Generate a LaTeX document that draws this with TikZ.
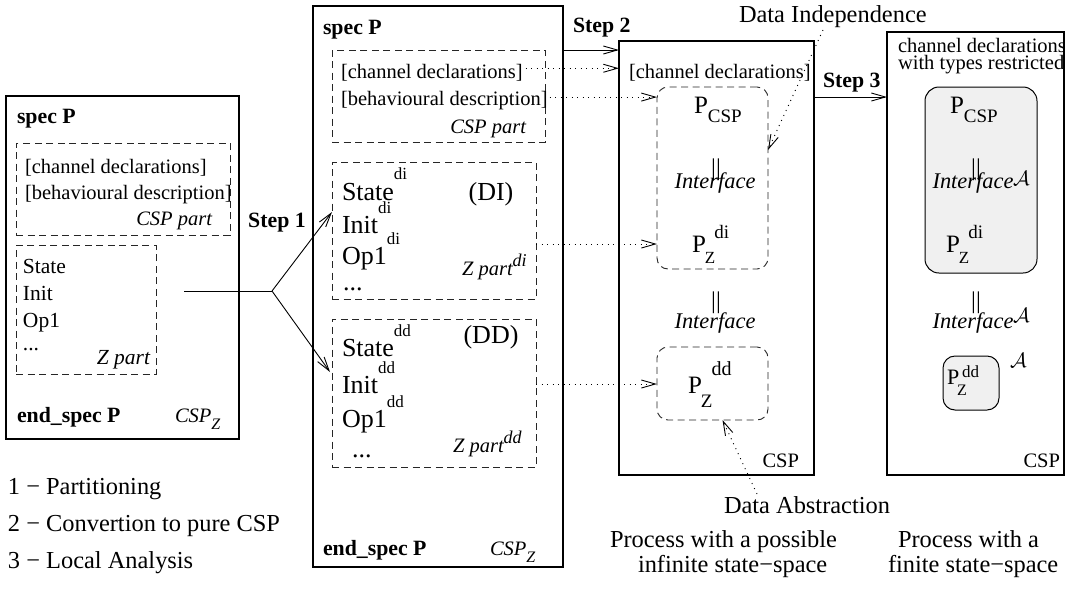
\documentclass[tikz,border=0pt]{standalone}
\usepackage{fontspec}
\setmainfont{Liberation Serif}
\usetikzlibrary{arrows.meta}
\definecolor{greyfill}{RGB}{240,240,240}
\newcommand\upr[3][17]{\raisebox{#2}{\fontsize{#1}{#1}\selectfont #3}}
\newcommand\dnr[3][17]{\raisebox{-#2}{\fontsize{#1}{#1}\selectfont #3}}
\newcommand\calA[1][22]{{\fontsize{#1}{#1}\selectfont$\mathcal{A}$}}
\begin{document}
\begin{tikzpicture}[x=1pt,y=-1pt,
  box/.style={draw, line width=1.1pt, inner sep=0pt, outer sep=0pt, anchor=north west},
  dbox/.style={draw=black!85, line width=0.9pt, dash pattern=on 7pt off 4.5pt, inner sep=0pt, outer sep=0pt, anchor=north west},
  rdbox/.style={dbox, rounded corners=11pt},
  gbox/.style={draw, line width=1pt, fill=greyfill, rounded corners=14pt, inner sep=0pt, outer sep=0pt, anchor=north west},
  txt/.style={inner sep=0pt, outer sep=0pt, font=\fontsize{20.5}{22}\selectfont},
  txtb/.style={txt, font=\fontsize{21.8}{24}\selectfont\bfseries},
  txti/.style={txt, font=\fontsize{20.5}{22}\selectfont\itshape},
  txtz/.style={txt, font=\fontsize{21.5}{23}\selectfont},
  txtzi/.style={txt, font=\fontsize{21.5}{23}\selectfont\itshape},
  txtbig/.style={txt, font=\fontsize{26}{28}\selectfont},
  txtif/.style={txt, font=\fontsize{22.4}{24}\selectfont\itshape},
  txtlab/.style={txt, font=\fontsize{24.4}{26}\selectfont},
  txtp/.style={txt, font=\fontsize{25}{27}\selectfont},
  pll/.style={txt, font=\fontsize{24}{24}\selectfont},
  arr/.style={line width=0.9pt, -{Straight Barb[length=14pt,width=8pt]}},
  darr/.style={line width=0.9pt, dash pattern=on 1pt off 4.5pt, -{Straight Barb[length=14pt,width=8pt]}}
]
\useasboundingbox (0,0) rectangle (1076,590);

% ---------- box 1 ----------
\node[box, minimum width=233pt, minimum height=343pt] (b1) at (6,96) {};
\node[dbox, minimum width=214pt, minimum height=92pt] (cspL) at (16,143) {};
\node[dbox, minimum width=140pt, minimum height=129pt] (zL) at (16,245) {};
\node[txtb, anchor=base west] (specL) at (17,123) {spec P};
\node[txt, anchor=base west] (chL) at (25,173) {[channel declarations]};
\node[txt, anchor=base west] (bhL) at (25,199) {[behavioural description]};
\node[txti, anchor=base east] (cpL) at (212,225) {CSP part};
\node[txtz, anchor=base west] (stL) at (23,273) {State};
\node[txtz, anchor=base west] (inL) at (23,300) {Init};
\node[txtz, anchor=base west] (opL) at (23,327) {Op1};
\node[txtz, anchor=base west] (dtL) at (23,350) {...};
\node[txtzi, anchor=base east] (zpL) at (150,364) {Z part};
\node[txtb, anchor=base west] (endL) at (17,422) {end\_spec P};
\node[txti, anchor=base west] (cszL) at (175,422) {CSP\dnr[16]{7pt}{Z}};

% step 1
\node[txtb, anchor=base] (s1) at (277,227) {Step 1};
\coordinate (zout) at (184,291);
\coordinate (fork) at (272,291);
\coordinate (diIn) at (332,212);
\coordinate (ddIn) at (330,372);
\draw[line width=0.9pt] (zout) -- (fork);
\draw[arr] (fork) -- (diIn);
\draw[arr] (fork) -- (ddIn);

% ---------- box 2 ----------
\node[box, minimum width=250pt, minimum height=561pt] (b2) at (313,6) {};
\node[dbox, minimum width=213pt, minimum height=92pt] (cspM) at (332,50) {};
\node[dbox, minimum width=204pt, minimum height=137pt] (diM) at (332,162) {};
\node[dbox, minimum width=204pt, minimum height=148pt] (ddM) at (332,319) {};
\node[txtb, anchor=base west] (specM) at (323,34) {spec P};
\node[txt, anchor=base west] (chM) at (341,78) {[channel declarations]};
\node[txt, anchor=base west] (bhM) at (341,105) {[behavioural description]};
\node[txti, anchor=base east] (cpM) at (526,133) {CSP part};
\node[txtbig, anchor=base west] (stDI) at (342,200) {State\upr{21pt}{di}};
\node[txtbig, anchor=base] (lDI) at (491,200) {(DI)};
\node[txtbig, anchor=base west] (inDI) at (342,233) {Init\upr{20pt}{di}};
\node[txtbig, anchor=base west] (opDI) at (342,264) {Op1\upr{20pt}{di}};
\node[txtbig, anchor=base west] (dtDI) at (343,290) {...};
\node[txti, anchor=base west] (zpDI) at (462,275) {Z part\upr[18]{9pt}{di}};
\node[txtbig, anchor=base west] (stDD) at (342,356) {State\upr{20pt}{dd}};
\node[txtbig, anchor=base] (lDD) at (491,343) {(DD)};
\node[txtbig, anchor=base west] (inDD) at (342,393) {Init\upr{20pt}{dd}};
\node[txtbig, anchor=base west] (opDD) at (342,427) {Op1\upr{20pt}{dd}};
\node[txtbig, anchor=base west] (dtDD) at (352,457) {...};
\node[txti, anchor=base west] (zpDD) at (453,452) {Z part\upr[18]{9pt}{dd}};
\node[txtb, anchor=base west] (endM) at (323,555) {end\_spec P};
\node[txti, anchor=base west] (cszM) at (490,555) {CSP\dnr[16]{7pt}{Z}};

% step 2
\node[txtb, anchor=base west] (s2) at (573,32) {Step 2};

% ---------- box 3 ----------
\node[box, minimum width=195pt, minimum height=434pt] (b3) at (619,41) {};
\node[txt, anchor=base west] (ch3) at (629,78) {[channel declarations]};
\node[rdbox, minimum width=111pt, minimum height=182pt] (pr3) at (657,87) {};
\node[rdbox, minimum width=111pt, minimum height=73pt] (dd3) at (657,347) {};
\node[txtp, anchor=base west] (pc3) at (694,113) {P\dnr[19]{9pt}{CSP}};
\node[pll, anchor=base] (pa3) at (716,175) {||};
\node[txtif, anchor=base] (if3) at (715,188) {Interface};
\node[txtp, anchor=base west] (pzdi3) at (692,252) {P\kern-1pt\dnr[17]{11pt}{Z}\kern-1pt\upr[19]{14pt}{di}};
\node[pll, anchor=base] (pb3) at (716,308) {||};
\node[txtif, anchor=base] (ifb3) at (715,328) {Interface};
\node[txtp, anchor=base west] (pzdd3) at (688,393) {P\kern-1pt\dnr[19]{14pt}{Z}\kern-1pt\upr[20]{18pt}{dd}};
\node[txt, anchor=base east] (csp3) at (799,467) {CSP};

% step 3
\node[txtb, anchor=base west] (s3) at (823,87) {Step 3};

% ---------- box 4 ----------
\node[box, minimum width=177pt, minimum height=443pt] (b4) at (887,32) {};
\node[txt, anchor=base west] (cd4) at (898,52) {channel declarations};
\node[txt, anchor=base west] (tr4) at (898,69) {with types restricted};
\node[gbox, minimum width=112pt, minimum height=186pt] (pr4) at (925,87) {};
\node[txtp, anchor=base west] (pc4) at (950,113) {P\dnr[19]{9pt}{CSP}};
\node[pll, anchor=base] (pa4) at (976,175) {||};
\node[txtif, anchor=base] (if4) at (973,188) {Interface};
\node[txt, anchor=base west] (A1) at (1013,185) {\calA};
\node[txtp, anchor=base west] (pzdi4) at (946,252) {P\kern-1pt\dnr[17]{11pt}{Z}\kern-1pt\upr[19]{14pt}{di}};
\node[pll, anchor=base] (pb4) at (976,308) {||};
\node[txtif, anchor=base] (ifb4) at (973,328) {Interface};
\node[txt, anchor=base west] (A2) at (1013,322) {\calA};
\node[gbox, rounded corners=12pt, minimum width=56pt, minimum height=54pt] (dd4) at (943,356) {};
\node[txt, anchor=base west, font=\fontsize{22}{22}\selectfont] (pzdd4) at (947,384) {P\rlap{\kern-2pt\dnr[16]{11pt}{Z}}\kern3pt\upr[17]{7pt}{dd}};
\node[txt, anchor=base west] (A3) at (1010,367) {\calA};
\node[txt, anchor=base east] (csp4) at (1060,467) {CSP};

% ---------- connectors ----------
\coordinate (y50) at (0,50);
\coordinate (y97) at (0,97);
\coordinate (y244) at (0,244);
\coordinate (y384) at (0,384);
\draw[arr] (b2.east |- y50) -- (b3.west |- y50);
\draw[arr] (b3.east |- y97) -- (b4.west |- y97);
\draw[darr] ([shift={(3,-4)}]chM.east) coordinate (c1) -- (c1 -| b3.west);
\draw[darr] ([shift={(2,-3)}]bhM.east) coordinate (c2) -- (c2 -| pr3.west);
\draw[darr] (diM.east |- y244) -- (pr3.west |- y244);
\draw[darr] (ddM.east |- y384) -- (dd3.west |- y384);

% ---------- labels ----------
\node[txtlab, anchor=base west] (dind) at (739,22) {Data Independence};
\coordinate (diS) at (823,30);
\coordinate (diE) at (768,150);
\draw[darr] (diS) -- (diE);
\node[txtlab, anchor=base west] (dabs) at (724,513) {Data Abstraction};
\coordinate (daS) at (757,494);
\draw[darr] (daS) -- ([xshift=10pt]dd3.south);

\node[txtlab, anchor=base west] (pw1) at (610,547) {Process with a possible};
\node[txtlab, anchor=base west] (pw2) at (638,572) {infinite state−space};
\node[txtlab, anchor=base west] (pf1) at (898,547) {Process with a};
\node[txtlab, anchor=base west] (pf2) at (888,572) {finite state−space};

\node[txtlab, anchor=base west] (lg1) at (8,494) {1 − Partitioning};
\node[txtlab, anchor=base west] (lg2) at (8,531) {2 − Convertion to pure CSP};
\node[txtlab, anchor=base west] (lg3) at (8,568) {3 − Local Analysis};
\end{tikzpicture}
\end{document}
